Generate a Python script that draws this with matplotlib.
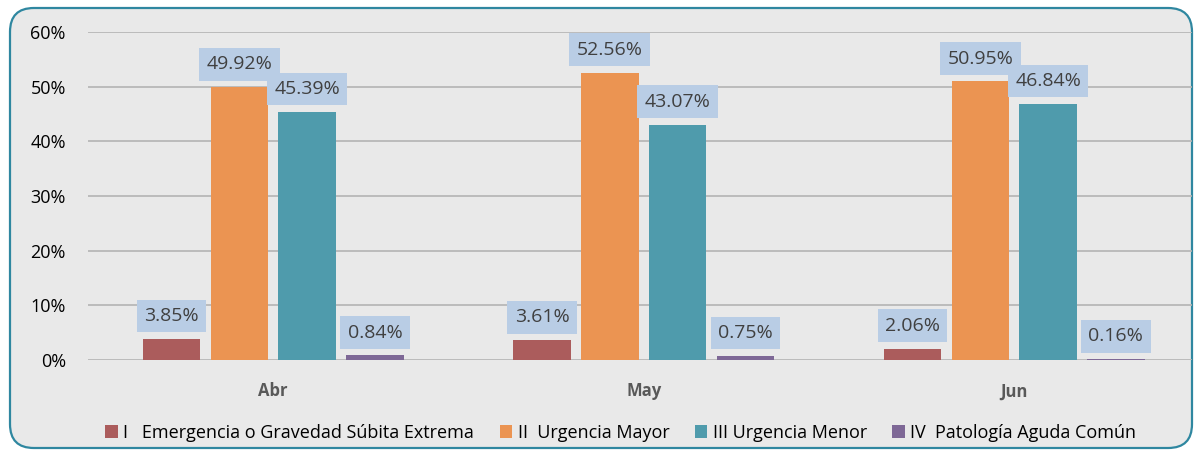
import matplotlib
matplotlib.use("Agg")
import matplotlib.pyplot as plt
import numpy as np
from matplotlib.patches import FancyBboxPatch
from matplotlib.ticker import PercentFormatter

categories = ["Abr", "May", "Jun"]
series_names = [
    "I   Emergencia o Gravedad Súbita Extrema",
    "II  Urgencia Mayor",
    "III Urgencia Menor",
    "IV  Patología Aguda Común",
]
s1 = [3.85, 3.61, 2.06]
s2 = [49.92, 52.56, 50.95]
s3 = [45.39, 43.07, 46.84]
s4 = [0.84, 0.75, 0.16]
series = [s1, s2, s3, s4]
colors = ["#ab5c5c", "#eb9452", "#4f9bac", "#7e6896"]
yticks = [0, 10, 20, 30, 40, 50, 60]

plt.rcParams['font.family'] = ['Open Sans', 'DejaVu Sans']

W, H = 1194, 450
fig = plt.figure(figsize=(W / 100, H / 100), dpi=100)
fig.patch.set_facecolor("white")

# rounded border / background
bg = FancyBboxPatch((10 / W, 2 / H), 1182 / W, 440 / H,
                    boxstyle="round,pad=0,rounding_size=0.02",
                    transform=fig.transFigure, facecolor="#e9e9e9",
                    edgecolor="#2f87a0", linewidth=1.6, zorder=-5,
                    mutation_aspect=W / H)
fig.patches.append(bg)

ax = fig.add_axes([88 / W, 1 - 360 / H, (1192 - 88) / W, (360 - 32) / H])
ax.set_facecolor("none")
ax.set_zorder(2)

x = np.arange(len(categories))
bw = 0.155
step = 0.183
for i, (vals, c, name) in enumerate(zip(series, colors, series_names)):
    xs = x + (i - 1.5) * step
    ax.bar(xs, vals, width=bw, color=c, label=name, zorder=3)
    for xi, v in zip(xs, vals):
        ax.annotate(f"{v:.2f}%", (xi, v), xytext=(0, 10), textcoords="offset points",
                    ha="center", va="bottom", fontsize=14, color="#404040",
                    bbox=dict(boxstyle="square,pad=0.38", facecolor="#b9cde5",
                              edgecolor="none"), zorder=5)

ax.set_xlim(-0.5, 2.48)
ax.set_ylim(0, 60)
ax.set_yticks(yticks)
ax.yaxis.set_major_formatter(PercentFormatter(decimals=0))
ax.yaxis.grid(True, color="#b3b3b3", linewidth=1.2, zorder=1)
ax.set_axisbelow(True)
for sp in ax.spines.values():
    sp.set_visible(False)
ax.tick_params(axis="y", length=0, labelsize=13, labelcolor="#000000", pad=16)
ax.set_xticks(x)
ax.set_xticklabels(categories, fontsize=12, fontweight="bold", color="#595959")
ax.tick_params(axis="x", length=0, pad=16)

fig.legend(loc="center", bbox_to_anchor=(0.52, 1 - 433 / H), ncol=4, frameon=False,
           fontsize=13, handlelength=0.7, handleheight=0.7, handletextpad=0.3,
           columnspacing=1.4)

fig.savefig("out.png", dpi=100, facecolor="white")
